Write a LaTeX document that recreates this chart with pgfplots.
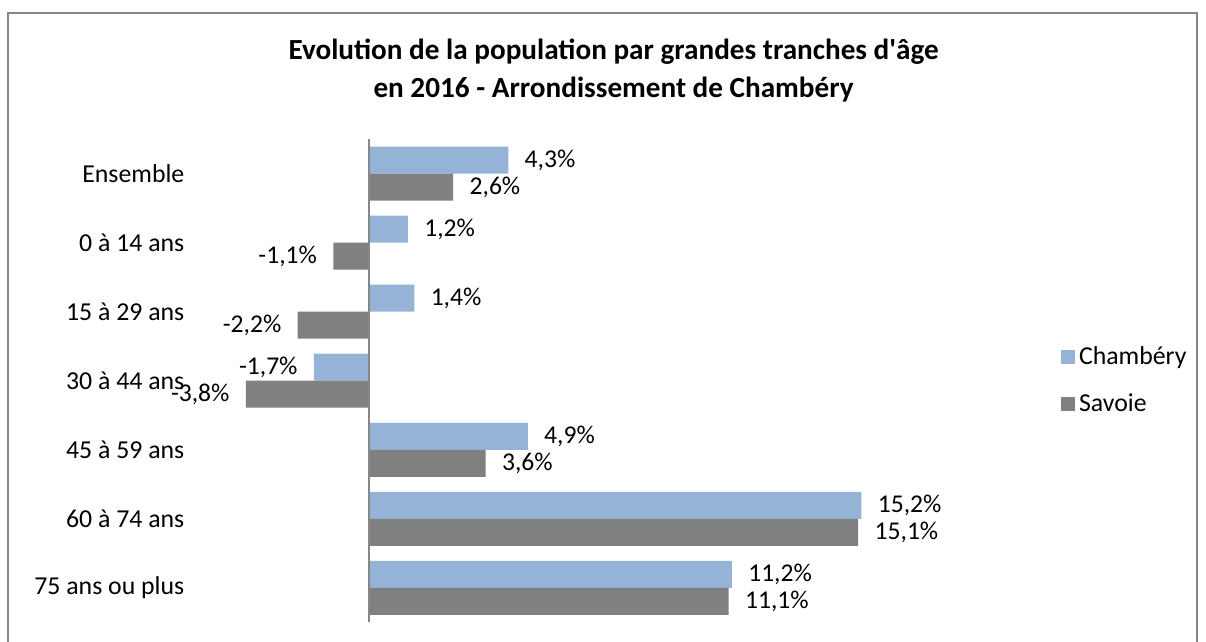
\documentclass[border=0pt]{standalone}
\usepackage{fontspec}
\setmainfont{Carlito}
\usepackage{pgfplots}
\pgfplotsset{compat=1.18}
\definecolor{cham}{HTML}{95B3D7}
\definecolor{sav}{HTML}{808080}
\definecolor{framec}{HTML}{878787}
\begin{document}
\begin{tikzpicture}
\useasboundingbox (0pt,0pt) rectangle (603pt,321pt);
\draw[framec, line width=1pt] (4pt,0pt) -- (4pt,314.5pt) -- (598.5pt,314.5pt) -- (598.5pt,0pt);
\node[font=\fontsize{14.6}{19}\selectfont\bfseries, align=center] at (306.8pt,285.5pt) {Evolution de la population par grandes tranches d\textquotesingle âge\\en 2016 - Arrondissement de Chambéry};
\begin{axis}[
  at={(119.7pt,9.75pt)}, anchor=south west, scale only axis,
  width=324pt, height=241.75pt,
  xbar, bar width=13.5pt,
  xmin=-4, xmax=16, ymin=-0.5, ymax=6.5,
  axis line style={draw=none},
  xtick=\empty, ytick={0,1,2,3,4,5,6},
  yticklabels={75 ans ou plus, 60 à 74 ans, 45 à 59 ans, 30 à 44 ans, 15 à 29 ans, 0 à 14 ans, Ensemble},
  major tick length=0pt,
  yticklabel style={font=\fontsize{12.9}{15}\selectfont, anchor=east, xshift=-24pt},
  /pgf/number format/.cd, use comma, fixed, fixed zerofill, precision=1, assume math mode=true, /pgfplots/.cd,
  nodes near coords={\pgfmathprintnumber{\pgfplotspointmeta}\%},
  nodes near coords align={horizontal},
  every node near coord/.append style={font=\fontsize{12.8}{15}\selectfont, text=black, inner xsep=8pt},
  legend style={at={(1.2674,0.5)}, anchor=west, draw=none, fill=none, font=\fontsize{12.9}{15}\selectfont, row sep=9pt, inner sep=0pt},
  legend cell align=left,
  legend image code/.code={\fill[#1] (0pt,-3.5pt) rectangle (7pt,3.5pt);},
]
\addplot[fill=cham, draw=none, bar shift=6.75pt] coordinates {
(4.3,6) (1.2,5) (1.4,4) (-1.7,3) (4.9,2) (15.2,1) (11.2,0)};
\addplot[fill=sav, draw=none, bar shift=-6.75pt] coordinates {
(2.6,6) (-1.1,5) (-2.2,4) (-3.8,3) (3.6,2) (15.1,1) (11.1,0)};
\legend{Chambéry, Savoie}
\draw[framec, line width=1.2pt] (axis cs:0,-0.5) -- (axis cs:0,6.5);
\end{axis}
\end{tikzpicture}
\end{document}
